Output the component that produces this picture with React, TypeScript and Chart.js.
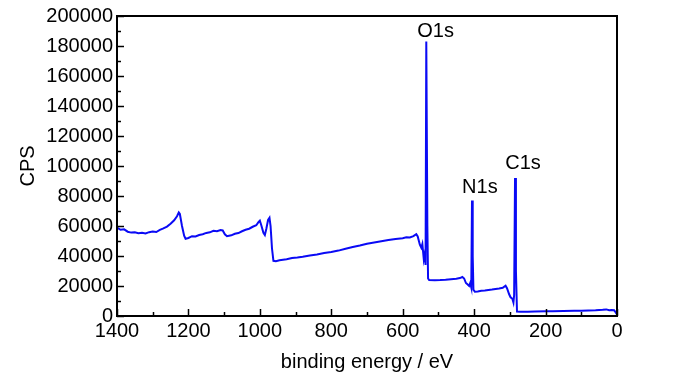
import React, { useEffect, useRef } from "react";
import { Chart, registerables } from "chart.js";

Chart.register(...registerables);

const energies = [
  1400, 1390, 1380, 1370, 1360, 1350, 1340, 1330, 1320, 1310, 1300, 1290, 1280, 1270, 1260, 1250, 1240, 1232, 1227, 1224,
  1218, 1212, 1208, 1200, 1190, 1180, 1170, 1160, 1150, 1140, 1130, 1120, 1110, 1104, 1098, 1092, 1080, 1070, 1060, 1050,
  1040, 1030, 1020, 1010, 1004, 1000, 996, 990, 986, 982, 977, 973, 970, 966, 962, 955, 945, 935, 925, 910,
  895, 880, 860, 840, 820, 800, 780, 760, 740, 720, 700, 680, 660, 640, 620, 600, 590, 580, 570, 562,
  558, 552, 548, 545, 541, 538, 536, 534, 531, 529, 526, 510, 495, 480, 465, 450, 440, 433, 428, 423,
  418, 414, 411, 408, 406, 404, 402, 398, 390, 380, 370, 360, 350, 340, 330, 320, 312, 308, 302, 298,
  293, 290, 288, 285.5, 283, 280, 270, 250, 230, 200, 180, 150, 120, 100, 80, 60, 40, 30, 22, 15,
  8, 4, 0,
];

const cps = [
  59000, 57500, 57800, 56200, 55600, 55800, 55200, 55500, 55000, 55900, 56300, 56000, 57400, 58400, 59600, 61500, 63800, 66500, 69000, 68000,
  60000, 53500, 51500, 52000, 53200, 53000, 54000, 54500, 55400, 55800, 56800, 56500, 57300, 57000, 54500, 53200, 53800, 54800, 55300, 56500,
  57500, 58200, 59500, 60500, 62500, 63500, 60500, 55500, 54000, 58000, 64000, 65500, 60000, 45000, 36800, 36500, 37200, 37500, 37800, 38600,
  39000, 39500, 40300, 41000, 42000, 42700, 43600, 44800, 46000, 47000, 48200, 49000, 49800, 50600, 51400, 51900, 52500, 52300, 53200, 54500,
  53000, 47500, 45500, 48000, 38000, 42000, 34000, 183000, 60000, 25000, 24000, 23900, 24000, 24200, 24500, 24800, 25300, 26000, 25000, 22000,
  21000, 20000, 22000, 19000, 77000, 40000, 17500, 16200, 16400, 16800, 17000, 17300, 17600, 18000, 18300, 18800, 20200, 18500, 14500, 12500,
  11500, 9000, 14000, 92000, 30000, 3000, 2800, 2900, 3000, 3100, 3200, 3300, 3500, 3500, 3700, 3800, 4100, 4400, 3800, 4000,
  3800, 2500, 1000,
];

const peakLabels = ["O1s", "N1s", "C1s"];
const peakLabelX = [508, 384, 263];
const peakLabelY = [190000, 86000, 102000];

const xTitle = "binding energy / eV";
const yTitle = "CPS";
const FONT = "'Liberation Sans', Arial, sans-serif";

const framePlugin = {
  id: "frameTicks",
  afterDatasetsDraw(chart: any) {
    const { ctx, chartArea } = chart;
    const xs = chart.scales.x;
    const ys = chart.scales.y;
    ctx.save();
    ctx.strokeStyle = "#000";
    ctx.lineWidth = 1.5;
    for (let v = 0; v <= 200000; v += 10000) {
      const y = Math.round(ys.getPixelForValue(v)) + 0.5;
      const len = v % 20000 === 0 ? 7 : 4;
      ctx.beginPath();
      ctx.moveTo(chartArea.left, y);
      ctx.lineTo(chartArea.left + len, y);
      ctx.stroke();
    }
    for (let v = 0; v <= 1400; v += 100) {
      const x = Math.round(xs.getPixelForValue(v)) + 0.5;
      const len = v % 200 === 0 ? 7 : 4;
      ctx.beginPath();
      ctx.moveTo(x, chartArea.bottom);
      ctx.lineTo(x, chartArea.bottom - len);
      ctx.stroke();
    }
    ctx.lineWidth = 2;
    ctx.strokeRect(chartArea.left, chartArea.top, chartArea.right - chartArea.left, chartArea.bottom - chartArea.top);
    ctx.fillStyle = "#000";
    ctx.font = `20px ${FONT}`;
    ctx.textAlign = "center";
    ctx.textBaseline = "middle";
    peakLabels.forEach((t, i) => {
      ctx.fillText(t, xs.getPixelForValue(peakLabelX[i]), ys.getPixelForValue(peakLabelY[i]));
    });
    ctx.restore();
  },
};

export default function App() {
  const ref = useRef<HTMLCanvasElement | null>(null);
  useEffect(() => {
    if (!ref.current) return;
    const chart = new Chart(ref.current, {
      type: "line",
      data: {
        datasets: [
          {
            data: energies.map((e, i) => ({ x: e, y: cps[i] })),
            borderColor: "#0a0af5",
            borderWidth: 2,
            pointRadius: 0,
            tension: 0,
            fill: false,
          },
        ],
      },
      options: {
        animation: false,
        responsive: false,
        devicePixelRatio: 1,
        layout: { padding: { left: 0, right: 83, top: 16, bottom: 0 } },
        plugins: { legend: { display: false }, tooltip: { enabled: false } },
        scales: {
          x: {
            type: "linear",
            reverse: true,
            min: 0,
            max: 1400,
            grid: { display: false, drawTicks: false },
            border: { display: false },
            ticks: {
              stepSize: 200,
              padding: 3,
              color: "#000",
              font: { size: 20, family: FONT },
              callback: (v: any) => String(v),
            },
            title: {
              display: true,
              text: xTitle,
              color: "#000",
              font: { size: 20, family: FONT },
              padding: { top: 0, bottom: 0 },
            },
            afterFit(scale: any) {
              scale.height = 58;
            },
          },
          y: {
            type: "linear",
            min: 0,
            max: 200000,
            grid: { display: false, drawTicks: false },
            border: { display: false },
            ticks: {
              stepSize: 20000,
              padding: 4,
              color: "#000",
              font: { size: 20, family: FONT },
              callback: (v: any) => String(v),
            },
            title: {
              display: true,
              text: yTitle,
              color: "#000",
              font: { size: 20, family: FONT },
              padding: { top: 16, bottom: 0 },
            },
            afterFit(scale: any) {
              scale.width = 117;
            },
          },
        },
      },
      plugins: [framePlugin],
    });
    return () => chart.destroy();
  }, []);
  return (
    <div style={{ position: "absolute", left: 0, top: 0, width: 700, height: 374, background: "#fff" }}>
      <canvas ref={ref} width={700} height={374} />
    </div>
  );
}
